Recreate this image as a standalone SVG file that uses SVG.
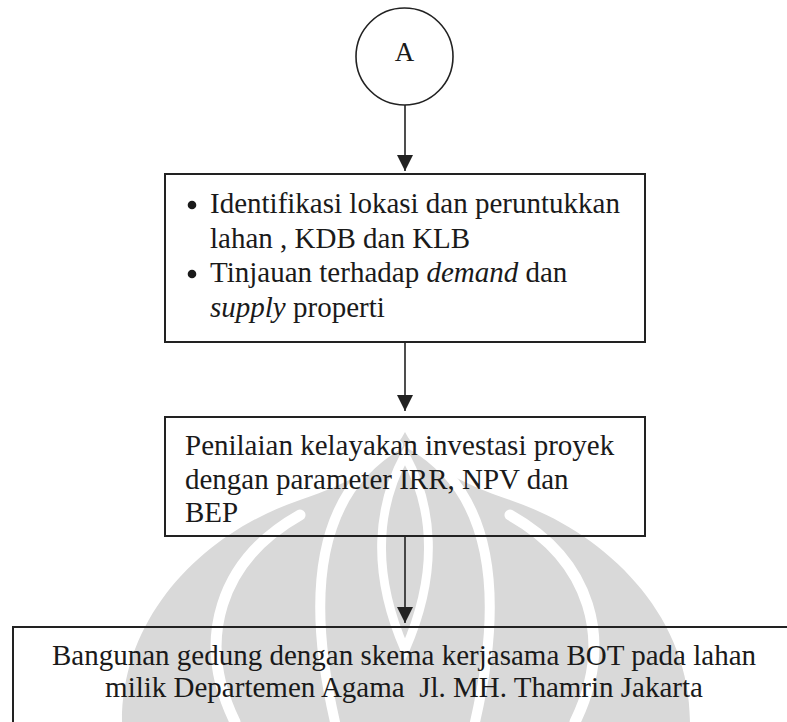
<svg xmlns="http://www.w3.org/2000/svg" width="787" height="722" viewBox="0 0 787 722">
<style>
.box{fill:none;stroke:#222;stroke-width:2}
text{font-family:'Liberation Serif','Times New Roman',Times,serif;font-size:29px;fill:#1a1a1a}
.c{text-anchor:middle}
.i{font-style:italic}
.edge{stroke:#222;stroke-width:1.6;fill:none}
.wm{fill:#d9d9d9}
.gap{fill:none;stroke:#fff;stroke-linecap:round}
</style>
<defs>
<marker id="ah" markerWidth="16" markerHeight="16" refX="16" refY="8" orient="auto" markerUnits="userSpaceOnUse">
<path d="M0,0 L16,8 L0,16 Z" fill="#222"/>
</marker>
</defs>
<rect width="787" height="722" fill="#fff"/>
<g id="watermark">
<path class="wm" d="M122 722 C122 610 210 530 300 500 C350 483 390 462 405 432 C420 462 460 483 510 500 C600 530 690 610 690 722 Z"/>
<path class="gap" stroke-width="9" d="M405 455 C432 505 440 570 405 650 C370 570 378 505 405 455 Z"/>
<path class="gap" stroke-width="10" d="M398 445 C330 485 300 570 335 722"/>
<path class="gap" stroke-width="10" d="M412 445 C480 485 510 570 475 722"/>
<path class="gap" stroke-width="11" d="M300 515 C220 560 195 640 235 722"/>
<path class="gap" stroke-width="11" d="M510 515 C590 560 615 640 575 722"/>
</g>
<g id="connectors">
<line class="edge" x1="405" y1="105" x2="405" y2="171" marker-end="url(#ah)"/>
<line class="edge" x1="405" y1="342" x2="405" y2="411" marker-end="url(#ah)"/>
<line class="edge" x1="405" y1="536" x2="405" y2="623" marker-end="url(#ah)"/>
</g>
<g id="node-a">
<circle cx="404.5" cy="56.5" r="48.5" fill="#fff" stroke="#222" stroke-width="1.6"/>
<text class="c" x="404.5" y="61" style="font-size:27px">A</text>
</g>
<g id="node-identifikasi">
<rect class="box" x="165" y="174" width="480" height="168" fill="#fff"/>
<circle cx="192" cy="205" r="4.3" fill="#1a1a1a"/>
<circle cx="192" cy="274" r="4.3" fill="#1a1a1a"/>
<text x="210" y="213">Identifikasi lokasi dan peruntukkan</text>
<text x="210" y="248">lahan , KDB dan KLB</text>
<text x="210" y="282">Tinjauan terhadap <tspan class="i">demand</tspan> dan</text>
<text x="210" y="317"><tspan class="i">supply</tspan> properti</text>
</g>
<g id="node-penilaian">
<rect class="box" x="165" y="417" width="480" height="119"/>
<text x="185" y="455">Penilaian kelayakan investasi proyek</text>
<text x="185" y="489">dengan parameter IRR, NPV dan</text>
<text x="185" y="522">BEP</text>
</g>
<g id="node-bangunan">
<rect class="box" x="13" y="627" width="790" height="120"/>
<text class="c" x="404" y="665">Bangunan gedung dengan skema kerjasama BOT pada lahan</text>
<text class="c" x="404" y="697" xml:space="preserve">milik Departemen Agama  Jl. MH. Thamrin Jakarta</text>
</g>
</svg>
